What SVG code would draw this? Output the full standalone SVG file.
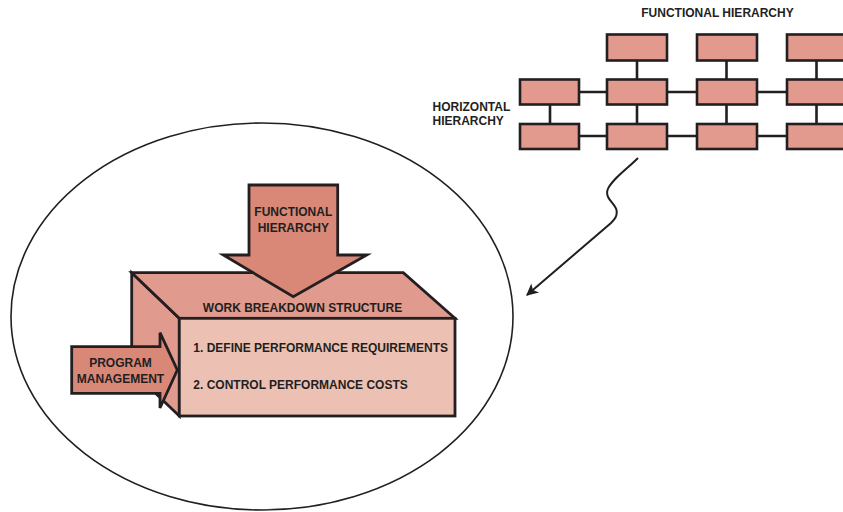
<svg xmlns="http://www.w3.org/2000/svg" width="843" height="512" viewBox="0 0 843 512">
<defs>
<style>
.bx{fill:#e29a8f;stroke:#231f20;stroke-width:2.6}
.ln{stroke:#231f20;stroke-width:2.6;fill:none}
.t{font-family:"Liberation Sans",Arial,sans-serif;font-weight:bold;font-size:12px;fill:#231f20}
.m{text-anchor:middle}
.o{stroke:#231f20;stroke-width:2.8;stroke-linejoin:miter}
</style>
<marker id="ah" viewBox="0 0 10 10" refX="9" refY="5" markerWidth="14" markerHeight="12" orient="auto" markerUnits="userSpaceOnUse">
<path d="M0,0 L10,5 L0,10 L2.5,5 Z" fill="#231f20"/>
</marker>
</defs>
<rect width="843" height="512" fill="#fff"/>

<g id="scope">
<ellipse cx="262" cy="316.5" rx="251" ry="193.5" fill="none" stroke="#231f20" stroke-width="1.6"/>
</g>

<g id="connectors">
<path class="ln" d="M637,60V79M726.5,60V79M816.5,60V79M550,105V124M637,105V124M726.5,105V124M816.5,105V124M579,92H607M667,92H697M757,92H787M579,136H607M667,136H697M757,136H787"/>
<path d="M638,158 C626,170 611,180 607.5,190 C605,199 615,203 616.5,210 C617.5,216 615,219 611,223 L527,295" fill="none" stroke="#231f20" stroke-width="2" marker-end="url(#ah)"/>
</g>

<g id="grid">
<rect class="bx" x="607" y="34.5" width="60" height="26"/>
<rect class="bx" x="697" y="34.5" width="60" height="26"/>
<rect class="bx" x="787" y="34.5" width="60" height="26"/>
<rect class="bx" x="520" y="79.5" width="59" height="25"/>
<rect class="bx" x="607" y="79.5" width="60" height="25"/>
<rect class="bx" x="697" y="79.5" width="60" height="25"/>
<rect class="bx" x="787" y="79.5" width="60" height="25"/>
<rect class="bx" x="520" y="124" width="59" height="25"/>
<rect class="bx" x="607" y="124" width="60" height="25"/>
<rect class="bx" x="697" y="124" width="60" height="25"/>
<rect class="bx" x="787" y="124" width="60" height="25"/>
</g>

<g id="labels">
<text class="t m" x="717.5" y="17">FUNCTIONAL HIERARCHY</text>
<text class="t" x="432.5" y="111">HORIZONTAL</text>
<text class="t" x="432.5" y="125">HIERARCHY</text>
</g>

<g id="wbs">
<polygon class="o" points="131.7,272.7 179.3,318.3 179.3,416 131.7,370.4" fill="#e09a8e"/>
<polygon class="o" points="131.7,272.7 403.3,272.7 455,318.3 179.3,318.3" fill="#e09a8e"/>
<rect class="o" x="179.3" y="318.3" width="275.7" height="97.7" fill="#ecc1b4"/>
<text class="t m" x="302.5" y="312.3">WORK BREAKDOWN STRUCTURE</text>
<text class="t" x="193.3" y="352">1. DEFINE PERFORMANCE REQUIREMENTS</text>
<text class="t" x="193.3" y="388.5">2. CONTROL PERFORMANCE COSTS</text>
</g>

<g id="functional-arrow">
<polygon class="o" points="249,185 337.7,185 337.7,255 366.7,255 293.3,296.7 223.3,255 249,255" fill="#d98878"/>
<text class="t m" x="293.3" y="216">FUNCTIONAL</text>
<text class="t m" x="293.3" y="231.7">HIERARCHY</text>
</g>

<g id="program-arrow">
<polygon class="o" points="71.7,346.7 160,346.7 160,332.7 177.3,370 160,408 160,393.3 71.7,393.3" fill="#d98878"/>
<text class="t m" x="120.5" y="367.3">PROGRAM</text>
<text class="t m" x="120.5" y="383.3">MANAGEMENT</text>
</g>
</svg>
